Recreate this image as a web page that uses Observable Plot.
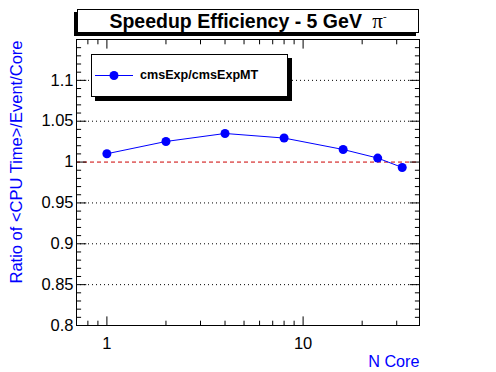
<!DOCTYPE html>
<html><head><meta charset="utf-8">
<script src="https://cdn.jsdelivr.net/npm/d3@7"></script>
<script src="https://cdn.jsdelivr.net/npm/@observablehq/plot@0.6"></script>
<style>
body{margin:0;background:#fff;font-family:"Liberation Sans",Arial,Helvetica,sans-serif;}
#wrap{position:relative;width:496px;height:372px;overflow:hidden;}
#title{position:absolute;left:77px;top:9px;width:340px;height:22px;border:1px solid #000;box-shadow:-3px 3px 0 #000;background:#fff;text-align:center;font-weight:bold;font-size:19.5px;line-height:23px;white-space:nowrap;}
#title .pi{font-family:"Liberation Serif","Times New Roman",serif;font-weight:normal;font-size:21px;margin-left:5px;}
#title sup{font-size:11px;vertical-align:8px;line-height:0;}
#legend{position:absolute;left:91px;top:54px;width:195px;height:41px;border:1px solid #000;box-shadow:4px 4px 0 #000;background:#fff;}
#legend svg{position:absolute;left:0;top:0;}
#legend span{position:absolute;left:48px;top:12px;font-weight:bold;font-size:12.6px;line-height:16px;white-space:nowrap;}
</style></head>
<body><div id="wrap"></div>
<script>
const cores = [1, 2, 4, 8, 16, 24, 32];
const ratio = [1.0102, 1.0252, 1.0350, 1.0294, 1.0154, 1.0049, 0.9934];
const seriesName = "cmsExp/cmsExpMT";
const titleText = "Speedup Efficiency - 5 GeV ";
const yTitle = "Ratio of <CPU Time>/Event/Core";
const xTitle = "N Core";
const yLabels = [0.8, 0.85, 0.9, 0.95, 1, 1.05, 1.1];
const yLabelText = ["0.8", "0.85", "0.9", "0.95", "1", "1.05", "1.1"];
const yMajor = [0.8, 0.85, 0.9, 0.95, 1, 1.05, 1.1, 1.15];
const yMinor = [0.81,0.82,0.83,0.84,0.86,0.87,0.88,0.89,0.91,0.92,0.93,0.94,0.96,0.97,0.98,0.99,1.01,1.02,1.03,1.04,1.06,1.07,1.08,1.09,1.11,1.12,1.13,1.14];
const yGrid = [0.85, 0.9, 0.95, 1.05, 1.1];
const yRef = [1];
const xMajor = [1, 10];
const xMinor = [0.8, 0.9, 2, 3, 4, 5, 6, 7, 8, 9, 20, 30];
const xDomain = [0.7, 39.2];
const yDomain = [0.8, 1.15];

const data = cores.map((c, i) => ({cores: c, ratio: ratio[i]}));
const blue = "#0000ff";
const font = "'Liberation Sans', Arial, Helvetica, sans-serif";

const chart = Plot.plot({
  width: 496, height: 372,
  marginLeft: 76, marginRight: 77, marginTop: 39, marginBottom: 47,
  style: {fontFamily: font, background: "white", color: "black"},
  x: {type: "log", domain: xDomain},
  y: {domain: yDomain},
  marks: [
    Plot.ruleY(yGrid, {stroke: "black", strokeDasharray: "1,3", strokeWidth: 1}),
    Plot.ruleY(yRef, {stroke: "#cc0000", strokeDasharray: "4,3", strokeWidth: 1}),
    Plot.line(data, {x: "cores", y: "ratio", stroke: blue, strokeWidth: 1}),
    Plot.dot(data, {x: "cores", y: "ratio", fill: blue, r: 4.5}),
    // ticks (inward)
    Plot.axisY({anchor: "left", ticks: yMajor, tickSize: -10.3, tickFormat: () => "", label: null}),
    Plot.axisY({anchor: "left", ticks: yMinor, tickSize: -5.1, tickFormat: () => "", label: null}),
    Plot.axisY({anchor: "right", ticks: yMajor, tickSize: -10.3, tickFormat: () => "", label: null}),
    Plot.axisY({anchor: "right", ticks: yMinor, tickSize: -5.1, tickFormat: () => "", label: null}),
    Plot.axisX({anchor: "bottom", ticks: xMajor, tickSize: -8.6, tickFormat: () => "", label: null}),
    Plot.axisX({anchor: "bottom", ticks: xMinor, tickSize: -4.3, tickFormat: () => "", label: null}),
    Plot.axisX({anchor: "top", ticks: xMajor, tickSize: -8.6, tickFormat: () => "", label: null}),
    Plot.axisX({anchor: "top", ticks: xMinor, tickSize: -4.3, tickFormat: () => "", label: null}),
    // labels
    Plot.axisY({anchor: "left", ticks: yLabels, tickSize: 0, tickPadding: 3, fontSize: 16.5,
      tickFormat: d => yLabelText[yLabels.indexOf(d)], label: null}),
    Plot.axisX({anchor: "bottom", ticks: xMajor, tickSize: 0, tickPadding: 12, fontSize: 16.5,
      tickFormat: d => String(d), label: null}),
    Plot.text([xTitle], {frameAnchor: "bottom-right", textAnchor: "end", lineAnchor: "middle",
      dy: 36, fill: blue, fontSize: 16.2}),
    Plot.text([yTitle], {frameAnchor: "top-left", textAnchor: "end", lineAnchor: "middle", rotate: -90,
      dx: -60, dy: 1, fill: blue, fontSize: 16.5}),
    Plot.frame({stroke: "black", strokeWidth: 1})
  ]
});

const wrap = document.getElementById("wrap");
wrap.appendChild(chart);

const title = document.createElement("div");
title.id = "title";
title.innerHTML = titleText.replace(/ /g, " ") + '<span class="pi">π<sup>-</sup></span>';
wrap.appendChild(title);

const legend = document.createElement("div");
legend.id = "legend";
legend.innerHTML = '<svg width="195" height="41"><line x1="3" x2="41" y1="20.5" y2="20.5" stroke="' + blue +
  '" stroke-width="1"/><circle cx="22" cy="20.5" r="4.5" fill="' + blue + '"/></svg><span></span>';
legend.querySelector("span").textContent = seriesName;
wrap.appendChild(legend);
</script>
</body></html>
